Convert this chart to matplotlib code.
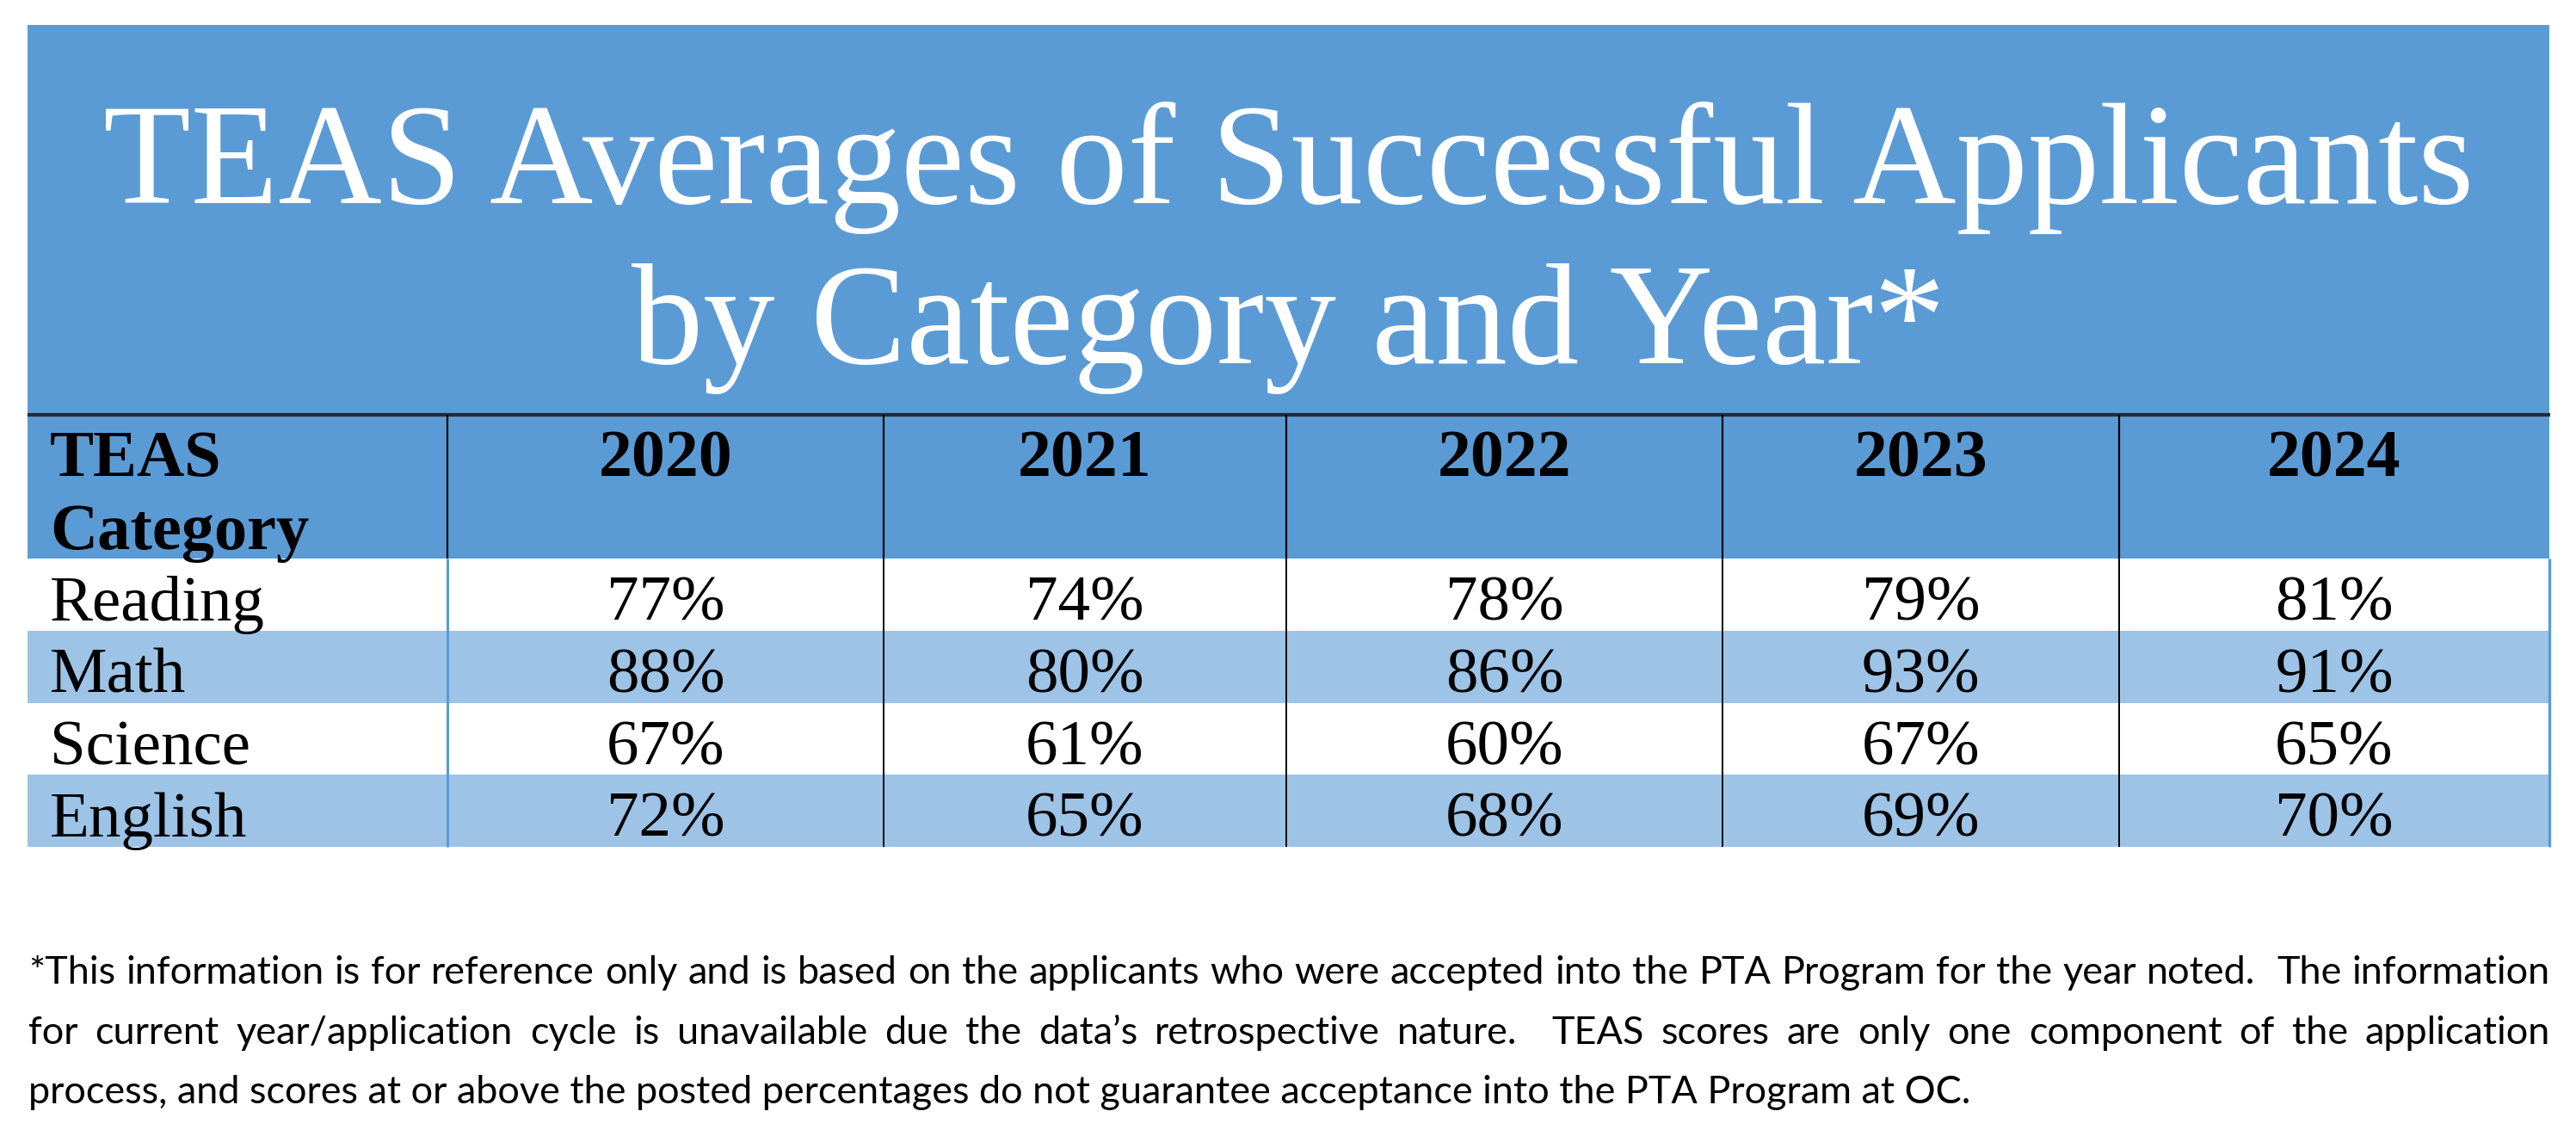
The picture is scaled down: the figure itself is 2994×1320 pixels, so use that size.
import matplotlib
matplotlib.use("Agg")
import matplotlib.pyplot as plt
from matplotlib.patches import Rectangle

# ---- data ----
title_lines = ["TEAS Averages of Successful Applicants", "by Category and Year*"]
header_label = "TEAS\nCategory"
years = ["2020", "2021", "2022", "2023", "2024"]
categories = ["Reading", "Math", "Science", "English"]
reading = [77, 74, 78, 79, 81]
math_ = [88, 80, 86, 93, 91]
science = [67, 61, 60, 67, 65]
english = [72, 65, 68, 69, 70]
values = [reading, math_, science, english]
footnote_lines = [
    "*This information is for reference only and is based on the applicants who were accepted into the PTA Program for the year noted.  The information",
    "for current year/application cycle is unavailable due the data\u2019s retrospective nature.  TEAS scores are only one component of the application",
    "process, and scores at or above the posted percentages do not guarantee acceptance into the PTA Program at OC.",
]

# ---- style / layout ----
W, H = 2994, 1320
BLUE = "#5B9BD5"
LIGHT = "#9DC3E6"
SERIF = "Liberation Serif"
SANS = "Lato"

col_edges = [32, 520, 1027, 1495, 2002, 2463, 2963]
title_top, header_top, header_bot = 29, 482, 649
row_h = (984 - header_bot) / 4.0

fig = plt.figure(figsize=(W / 100, H / 100), dpi=100)
ax = fig.add_axes([0, 0, 1, 1])
ax.set_xlim(0, W)
ax.set_ylim(H, 0)
ax.axis("off")

left, right = col_edges[0], col_edges[-1]

# title block + header row
ax.add_patch(Rectangle((left, title_top), right - left, header_bot - title_top,
                       facecolor=BLUE, edgecolor="none", zorder=1))
# body rows
for i in range(len(categories)):
    y0 = header_bot + i * row_h
    fc = "white" if i % 2 == 0 else LIGHT
    ax.add_patch(Rectangle((left, y0), right - left, row_h,
                           facecolor=fc, edgecolor="none", zorder=1))

body_bot = header_bot + len(categories) * row_h

# header top rule
ax.plot([left, right + 1], [header_top, header_top], color="#2B2B2B", lw=3.0,
        solid_capstyle="butt", zorder=3)
# vertical rules
for j, x in enumerate(col_edges[1:-1]):
    ax.plot([x, x], [header_top, header_bot], color="black", lw=1.6, zorder=3,
            solid_capstyle="butt")
    ax.plot([x, x], [header_bot, body_bot], color=BLUE if j == 0 else "black",
            lw=2.2 if j == 0 else 1.4, zorder=3, solid_capstyle="butt")
ax.plot([right, right], [header_bot, body_bot], color=BLUE, lw=2.4, zorder=3,
        solid_capstyle="butt")

# title
ax.text((left + right) / 2, 236, title_lines[0], ha="center", va="baseline",
        color="white", fontsize=120, family=SERIF, zorder=4)
ax.text((left + right) / 2, 422, title_lines[1], ha="center", va="baseline",
        color="white", fontsize=120, family=SERIF, zorder=4)

# header row
hl = header_label.split("\n")
ax.text(58, 553, hl[0], ha="left", va="baseline", fontsize=55, family=SERIF,
        fontweight="bold", color="black", zorder=4)
ax.text(58, 638, hl[1], ha="left", va="baseline", fontsize=55, family=SERIF,
        fontweight="bold", color="black", zorder=4)
for j, yr in enumerate(years):
    cx = (col_edges[j + 1] + col_edges[j + 2]) / 2
    ax.text(cx, 553, yr, ha="center", va="baseline", fontsize=56, family=SERIF,
            fontweight="bold", color="black", zorder=4)

# body
for i, cat in enumerate(categories):
    yb = header_bot + (i + 1) * row_h - 12
    ax.text(58, yb, cat, ha="left", va="baseline", fontsize=54, family=SERIF,
            color="black", zorder=4)
    for j, v in enumerate(values[i]):
        cx = (col_edges[j + 1] + col_edges[j + 2]) / 2
        ax.text(cx, yb, f"{v}%", ha="center", va="baseline", fontsize=54,
                family=SERIF, color="black", zorder=4)

# footnote (justified lines 1-2)
renderer = fig.canvas.get_renderer()
fx0, fx1 = 33, 2964
fbase = [1143, 1213, 1282]
probe = ax.text(0, 0, footnote_lines[0], fontsize=30, family=SANS)
wnat = probe.get_window_extent(renderer).width
probe.remove()
fs = 30 * (fx1 - fx0) / wnat * 0.995

for k, line in enumerate(footnote_lines):
    if k < len(footnote_lines) - 1:
        tokens = [t for t in line.split(" ") if t != ""]
        widths = []
        for t in tokens:
            tt = ax.text(0, 0, t, fontsize=fs, family=SANS)
            widths.append(tt.get_window_extent(renderer).width)
            tt.remove()
        raw = line.split(" ")
        weights = []
        cur_w = 0
        for r in raw[1:]:
            cur_w += 1
            if r != "":
                weights.append(cur_w)
                cur_w = 0
        total_gap = (fx1 - fx0) - sum(widths)
        unit = total_gap / sum(weights)
        x = fx0
        for n, t in enumerate(tokens):
            ax.text(x, fbase[k], t, ha="left", va="baseline", fontsize=fs,
                    family=SANS, color="black", zorder=4)
            x += widths[n]
            if n < len(weights):
                x += unit * weights[n]
    else:
        ax.text(fx0, fbase[k], line, ha="left", va="baseline", fontsize=fs,
                family=SANS, color="black", zorder=4)

fig.savefig("out.png", dpi=100, facecolor="white")
